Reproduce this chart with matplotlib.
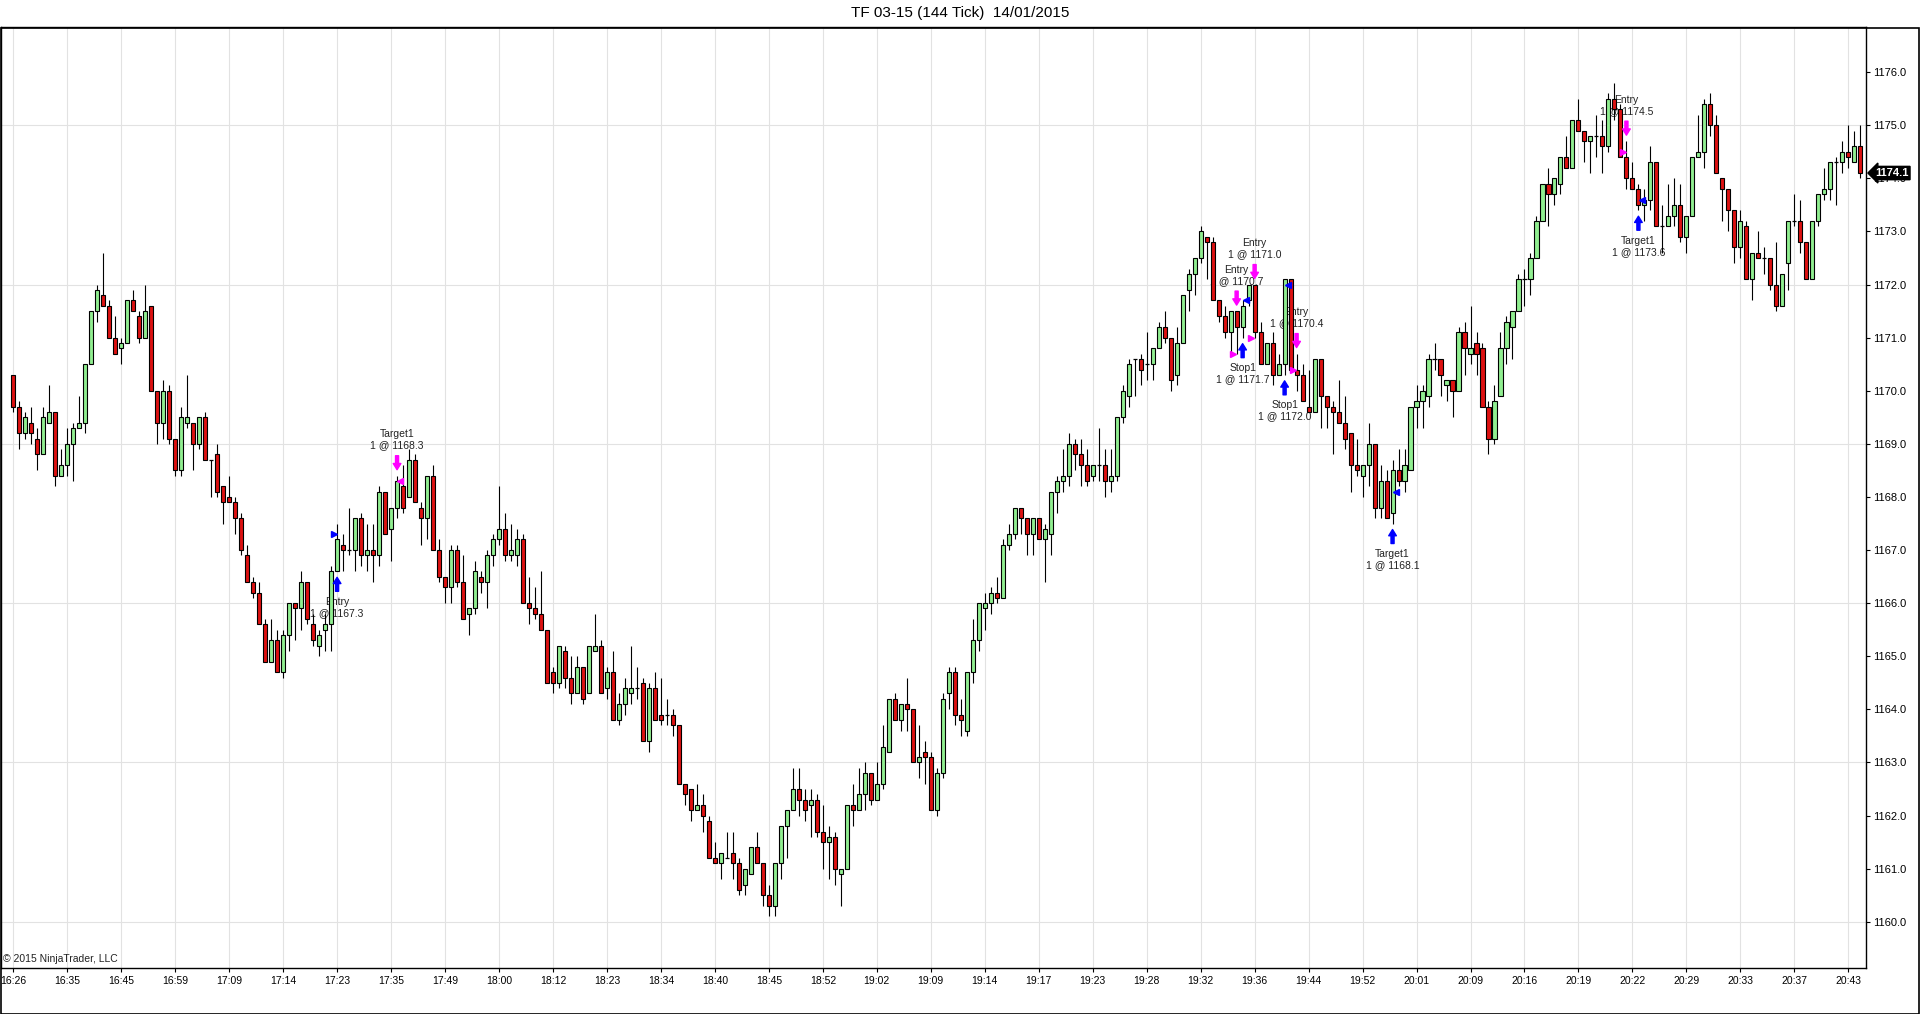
import numpy as np
import matplotlib
matplotlib.use("Agg")
import matplotlib.pyplot as plt
from matplotlib.patches import Rectangle
from matplotlib.transforms import blended_transform_factory

plt.rcParams['font.family'] = ['Liberation Sans', 'DejaVu Sans']

# ---- data: 144 tick bars, TF 03-15 ----
opens = [
    1170.3, 1169.7, 1169.2, 1169.4, 1169.1, 1168.8, 1169.4, 1169.6, 1168.4, 1168.6,
    1169.0, 1169.3, 1169.4, 1170.5, 1171.5, 1171.8, 1171.6, 1171.0, 1170.8, 1170.9,
    1171.7, 1171.4, 1171.0, 1171.6, 1170.0, 1169.4, 1170.0, 1169.1, 1168.5, 1169.4,
    1169.4, 1169.0, 1169.5, 1168.7, 1168.8, 1168.2, 1168.0, 1167.9, 1167.6, 1166.9,
    1166.4, 1166.2, 1165.6, 1164.9, 1165.3, 1164.7, 1165.4, 1166.0, 1165.9, 1166.4,
    1165.6, 1165.2, 1165.5, 1165.6, 1166.6, 1167.1, 1167.0, 1167.0, 1167.6, 1166.9,
    1167.0, 1166.9, 1168.1, 1167.4, 1167.8, 1168.2, 1168.0, 1168.7, 1167.8, 1167.6,
    1168.4, 1167.0, 1166.5, 1166.3, 1167.0, 1166.4, 1165.8, 1165.9, 1166.5, 1166.4,
    1166.9, 1167.2, 1167.4, 1166.9, 1166.9, 1167.2, 1166.0, 1165.9, 1165.8, 1165.5,
    1164.7, 1164.5, 1165.1, 1164.6, 1164.3, 1164.8, 1164.3, 1165.1, 1165.2, 1164.4,
    1164.7, 1163.8, 1164.1, 1164.3, 1164.4, 1164.5, 1163.4, 1164.4, 1163.9, 1163.9,
    1163.9, 1163.7, 1162.6, 1162.5, 1162.1, 1162.2, 1161.9, 1161.2, 1161.1, 1161.2,
    1161.3, 1161.1, 1160.7, 1160.9, 1161.4, 1161.1, 1160.5, 1160.3, 1161.1, 1161.8,
    1162.1, 1162.5, 1162.3, 1162.2, 1162.3, 1161.7, 1161.5, 1161.6, 1160.9, 1161.0,
    1162.2, 1162.1, 1162.4, 1162.8, 1162.3, 1162.6, 1163.2, 1164.2, 1163.8, 1164.1,
    1164.0, 1163.0, 1163.2, 1163.1, 1162.1, 1162.8, 1164.3, 1164.7, 1163.9, 1163.6,
    1164.7, 1165.3, 1165.9, 1166.0, 1166.2, 1166.1, 1167.1, 1167.3, 1167.8, 1167.6,
    1167.3, 1167.6, 1167.2, 1167.3, 1168.1, 1168.3, 1168.4, 1169.0, 1168.8, 1168.6,
    1168.4, 1168.6, 1168.6, 1168.3, 1168.4, 1169.5, 1169.9, 1170.6, 1170.6, 1170.5,
    1170.5, 1170.8, 1171.2, 1171.0, 1170.3, 1170.9, 1171.9, 1172.2, 1172.5, 1172.9,
    1172.8, 1171.7, 1171.4, 1171.1, 1171.5, 1171.2, 1171.7, 1172.0, 1171.1, 1170.5,
    1170.9, 1170.3, 1170.5, 1172.1, 1170.4, 1170.3, 1169.7, 1169.6, 1170.6, 1169.9,
    1169.7, 1169.6, 1169.4, 1169.2, 1168.6, 1168.4, 1168.6, 1169.0, 1167.8, 1168.3,
    1167.7, 1168.5, 1168.3, 1168.5, 1169.7, 1169.8, 1169.9, 1170.6, 1170.6, 1170.1,
    1170.2, 1170.0, 1171.1, 1170.7, 1170.9, 1170.8, 1169.7, 1169.1, 1169.9, 1170.8,
    1171.2, 1171.5, 1172.1, 1172.1, 1172.5, 1173.2, 1173.9, 1173.7, 1173.9, 1174.4,
    1174.2, 1175.1, 1174.9, 1174.7, 1174.8, 1174.8, 1174.6, 1175.5, 1175.3, 1174.4,
    1174.0, 1173.8, 1173.5, 1173.6, 1174.3, 1173.1, 1173.1, 1173.3, 1173.5, 1172.9,
    1173.3, 1174.4, 1174.5, 1175.4, 1175.0, 1174.0, 1173.8, 1173.4, 1172.7, 1173.1,
    1172.1, 1172.6, 1172.5, 1172.5, 1172.0, 1171.6, 1172.4, 1173.2, 1173.2, 1172.8,
    1172.1, 1173.2, 1173.7, 1173.8, 1174.3, 1174.3, 1174.5, 1174.3, 1174.6,
]
highs = [
    1170.3, 1169.8, 1169.6, 1169.7, 1169.3, 1169.7, 1170.1, 1169.6, 1168.9, 1169.3,
    1169.4, 1169.9, 1170.5, 1171.5, 1172.0, 1172.6, 1171.7, 1171.4, 1171.0, 1171.7,
    1171.9, 1171.5, 1172.0, 1171.6, 1170.0, 1170.2, 1170.1, 1169.1, 1169.7, 1170.3,
    1169.4, 1169.5, 1169.6, 1168.7, 1169.0, 1168.2, 1168.4, 1168.0, 1167.7, 1167.1,
    1166.5, 1166.4, 1165.7, 1165.7, 1165.5, 1165.5, 1166.0, 1166.0, 1166.6, 1166.4,
    1165.8, 1165.5, 1165.8, 1166.7, 1167.5, 1167.3, 1167.8, 1167.6, 1167.7, 1167.5,
    1167.5, 1168.2, 1168.1, 1167.8, 1168.4, 1168.6, 1168.9, 1168.8, 1167.9, 1168.4,
    1168.6, 1167.2, 1166.5, 1167.1, 1167.1, 1166.9, 1165.9, 1166.8, 1166.6, 1167.0,
    1167.3, 1168.2, 1167.7, 1167.5, 1167.4, 1167.3, 1166.5, 1166.3, 1166.6, 1165.5,
    1164.8, 1165.2, 1165.2, 1165.0, 1165.0, 1164.8, 1165.2, 1165.8, 1165.3, 1164.8,
    1165.1, 1164.3, 1164.6, 1165.2, 1164.8, 1164.6, 1164.5, 1164.7, 1164.6, 1164.2,
    1164.0, 1163.7, 1162.6, 1162.5, 1162.6, 1162.4, 1162.0, 1161.5, 1161.3, 1161.7,
    1161.7, 1161.2, 1161.0, 1161.4, 1161.7, 1161.1, 1160.7, 1161.1, 1161.8, 1162.1,
    1162.9, 1162.9, 1162.5, 1162.5, 1162.4, 1162.2, 1161.8, 1161.7, 1161.0, 1162.2,
    1162.6, 1162.9, 1163.0, 1162.8, 1163.0, 1163.7, 1164.2, 1164.3, 1164.1, 1164.6,
    1164.0, 1163.7, 1163.4, 1163.2, 1162.9, 1164.3, 1164.8, 1164.8, 1164.2, 1164.7,
    1165.7, 1166.0, 1166.2, 1166.3, 1166.5, 1167.2, 1167.5, 1167.8, 1167.8, 1167.6,
    1167.6, 1167.6, 1167.5, 1168.1, 1168.4, 1168.9, 1169.2, 1169.1, 1169.1, 1168.9,
    1168.6, 1169.3, 1168.9, 1168.9, 1169.5, 1170.1, 1170.6, 1170.6, 1170.7, 1171.1,
    1170.8, 1171.3, 1171.5, 1171.0, 1171.2, 1171.8, 1172.3, 1172.5, 1173.1, 1172.9,
    1172.9, 1171.7, 1171.6, 1171.5, 1171.5, 1171.7, 1172.0, 1172.0, 1171.3, 1170.9,
    1171.1, 1170.7, 1172.1, 1172.1, 1170.7, 1170.5, 1170.4, 1170.6, 1170.6, 1169.9,
    1169.8, 1170.2, 1169.9, 1169.2, 1169.1, 1168.6, 1169.4, 1169.0, 1168.6, 1168.5,
    1168.7, 1168.9, 1168.9, 1169.7, 1170.1, 1170.1, 1170.7, 1170.9, 1170.6, 1170.2,
    1170.2, 1171.2, 1171.3, 1171.6, 1171.1, 1170.9, 1169.8, 1170.1, 1171.1, 1171.4,
    1171.5, 1172.2, 1172.3, 1172.6, 1173.3, 1173.9, 1174.2, 1174.0, 1174.4, 1174.8,
    1175.1, 1175.5, 1174.9, 1174.8, 1175.2, 1175.1, 1175.6, 1175.8, 1175.4, 1174.7,
    1174.3, 1173.9, 1173.8, 1174.6, 1174.3, 1173.5, 1173.9, 1174.0, 1173.9, 1173.3,
    1174.4, 1175.2, 1175.5, 1175.6, 1175.2, 1174.0, 1173.8, 1173.4, 1173.4, 1173.2,
    1172.6, 1173.0, 1172.7, 1172.5, 1172.8, 1172.2, 1173.2, 1173.7, 1173.6, 1172.8,
    1173.2, 1173.7, 1174.2, 1174.3, 1174.4, 1174.7, 1175.0, 1174.9, 1175.0,
]
lows = [
    1169.6, 1168.9, 1169.1, 1169.0, 1168.5, 1168.8, 1169.4, 1168.2, 1168.4, 1168.4,
    1168.3, 1169.3, 1169.2, 1170.5, 1171.3, 1171.6, 1171.0, 1170.7, 1170.5, 1170.9,
    1171.5, 1170.9, 1171.0, 1170.0, 1169.0, 1169.1, 1169.0, 1168.4, 1168.4, 1169.3,
    1168.5, 1168.9, 1168.7, 1168.0, 1168.0, 1167.5, 1167.9, 1167.3, 1166.9, 1166.4,
    1166.1, 1165.6, 1164.9, 1164.9, 1164.7, 1164.6, 1165.1, 1165.3, 1165.5, 1165.6,
    1165.2, 1165.0, 1165.1, 1165.1, 1166.6, 1166.6, 1166.9, 1166.6, 1166.7, 1166.6,
    1166.4, 1166.7, 1167.3, 1166.8, 1167.6, 1167.7, 1168.0, 1167.9, 1167.1, 1167.2,
    1167.0, 1166.4, 1166.0, 1166.0, 1166.3, 1165.7, 1165.4, 1165.8, 1166.2, 1165.9,
    1166.7, 1167.1, 1166.8, 1166.8, 1166.7, 1166.0, 1165.6, 1165.7, 1165.5, 1164.5,
    1164.3, 1164.4, 1164.4, 1164.1, 1164.3, 1164.1, 1164.3, 1165.1, 1164.3, 1164.2,
    1163.8, 1163.7, 1163.9, 1164.1, 1164.2, 1163.4, 1163.2, 1163.8, 1163.7, 1163.7,
    1163.5, 1162.6, 1162.2, 1161.9, 1162.1, 1161.7, 1161.2, 1161.1, 1160.8, 1161.2,
    1160.8, 1160.5, 1160.5, 1160.9, 1161.1, 1160.3, 1160.1, 1160.1, 1160.8, 1161.2,
    1162.1, 1162.0, 1161.9, 1161.6, 1161.6, 1161.0, 1160.8, 1160.7, 1160.3, 1161.0,
    1161.8, 1162.1, 1162.1, 1162.2, 1162.3, 1162.5, 1163.2, 1163.8, 1163.6, 1163.6,
    1163.0, 1162.7, 1162.6, 1162.1, 1162.0, 1162.7, 1164.0, 1163.7, 1163.5, 1163.5,
    1164.5, 1165.1, 1165.5, 1165.8, 1166.0, 1166.1, 1167.0, 1167.2, 1167.3, 1166.9,
    1166.9, 1167.2, 1166.4, 1166.9, 1167.7, 1168.1, 1168.2, 1168.5, 1168.2, 1168.2,
    1168.3, 1168.3, 1168.0, 1168.1, 1168.3, 1169.4, 1169.7, 1169.9, 1170.1, 1170.2,
    1170.2, 1170.8, 1170.9, 1170.0, 1170.1, 1170.9, 1171.5, 1171.8, 1172.4, 1172.1,
    1171.7, 1171.3, 1171.0, 1170.7, 1170.7, 1171.0, 1171.6, 1171.0, 1170.5, 1170.5,
    1170.1, 1170.3, 1170.3, 1170.4, 1170.0, 1169.8, 1169.6, 1169.6, 1169.3, 1169.3,
    1168.8, 1169.4, 1168.9, 1168.1, 1168.4, 1168.0, 1168.2, 1167.6, 1167.6, 1167.6,
    1167.5, 1168.2, 1168.1, 1168.5, 1169.3, 1169.3, 1169.7, 1170.4, 1169.9, 1169.8,
    1169.5, 1170.0, 1170.3, 1170.5, 1170.3, 1169.7, 1168.8, 1169.0, 1169.9, 1170.5,
    1170.6, 1171.5, 1171.6, 1171.8, 1172.5, 1173.2, 1173.1, 1173.5, 1173.7, 1174.2,
    1174.2, 1174.9, 1174.3, 1174.1, 1174.4, 1174.1, 1174.5, 1175.1, 1174.4, 1173.8,
    1173.8, 1173.4, 1173.2, 1173.4, 1173.1, 1172.6, 1173.1, 1173.1, 1172.8, 1172.6,
    1173.3, 1174.4, 1174.2, 1174.8, 1174.1, 1173.2, 1173.0, 1172.4, 1172.5, 1172.1,
    1171.7, 1172.5, 1172.2, 1171.9, 1171.5, 1171.6, 1171.9, 1173.1, 1172.6, 1172.1,
    1172.1, 1173.1, 1173.6, 1173.6, 1173.5, 1174.1, 1174.2, 1174.3, 1174.0,
]
closes = [
    1169.7, 1169.2, 1169.5, 1169.2, 1168.8, 1169.5, 1169.6, 1168.4, 1168.6, 1169.0,
    1169.3, 1169.4, 1170.5, 1171.5, 1171.9, 1171.6, 1171.0, 1170.7, 1170.9, 1171.7,
    1171.5, 1171.0, 1171.5, 1170.0, 1169.4, 1170.0, 1169.1, 1168.5, 1169.5, 1169.5,
    1169.0, 1169.5, 1168.7, 1168.7, 1168.1, 1167.9, 1167.9, 1167.6, 1167.0, 1166.4,
    1166.2, 1165.6, 1164.9, 1165.3, 1164.7, 1165.4, 1166.0, 1165.9, 1166.4, 1165.7,
    1165.3, 1165.4, 1165.6, 1166.6, 1167.2, 1167.0, 1167.0, 1167.6, 1166.9, 1167.0,
    1166.9, 1168.1, 1167.3, 1167.8, 1168.3, 1167.8, 1168.7, 1167.9, 1167.6, 1168.4,
    1167.0, 1166.5, 1166.3, 1167.0, 1166.4, 1165.7, 1165.9, 1166.6, 1166.4, 1166.9,
    1167.2, 1167.4, 1166.9, 1167.0, 1167.2, 1166.0, 1165.9, 1165.8, 1165.5, 1164.5,
    1164.5, 1165.2, 1164.6, 1164.3, 1164.8, 1164.2, 1165.2, 1165.2, 1164.3, 1164.7,
    1163.8, 1164.1, 1164.4, 1164.4, 1164.4, 1163.4, 1164.4, 1163.8, 1163.8, 1163.9,
    1163.7, 1162.6, 1162.4, 1162.1, 1162.2, 1162.0, 1161.2, 1161.1, 1161.3, 1161.2,
    1161.1, 1160.6, 1161.0, 1161.4, 1161.1, 1160.5, 1160.3, 1161.1, 1161.8, 1162.1,
    1162.5, 1162.3, 1162.1, 1162.3, 1161.7, 1161.5, 1161.6, 1161.0, 1161.0, 1162.2,
    1162.1, 1162.4, 1162.8, 1162.3, 1162.6, 1163.3, 1164.2, 1163.8, 1164.1, 1164.0,
    1163.0, 1163.1, 1163.1, 1162.1, 1162.8, 1164.2, 1164.7, 1163.9, 1163.8, 1164.7,
    1165.3, 1166.0, 1166.0, 1166.2, 1166.1, 1167.1, 1167.3, 1167.8, 1167.6, 1167.3,
    1167.6, 1167.2, 1167.4, 1168.1, 1168.3, 1168.4, 1169.0, 1168.8, 1168.6, 1168.3,
    1168.6, 1168.6, 1168.3, 1168.4, 1169.5, 1170.0, 1170.5, 1170.6, 1170.4, 1170.5,
    1170.8, 1171.2, 1171.0, 1170.2, 1170.9, 1171.8, 1172.2, 1172.5, 1173.0, 1172.8,
    1171.7, 1171.4, 1171.1, 1171.5, 1171.2, 1171.6, 1172.0, 1171.1, 1170.5, 1170.9,
    1170.3, 1170.5, 1172.1, 1170.4, 1170.3, 1169.8, 1169.6, 1170.6, 1169.9, 1169.7,
    1169.6, 1169.4, 1169.1, 1168.6, 1168.5, 1168.6, 1169.0, 1167.8, 1168.3, 1167.6,
    1168.5, 1168.3, 1168.6, 1169.7, 1169.8, 1170.0, 1170.6, 1170.6, 1170.3, 1170.2,
    1170.0, 1171.1, 1170.8, 1170.8, 1170.7, 1169.7, 1169.1, 1169.8, 1170.8, 1171.3,
    1171.5, 1172.1, 1172.1, 1172.5, 1173.2, 1173.9, 1173.7, 1174.0, 1174.4, 1174.2,
    1175.1, 1174.9, 1174.7, 1174.8, 1174.8, 1174.6, 1175.5, 1175.3, 1174.4, 1174.0,
    1173.8, 1173.5, 1173.6, 1174.3, 1173.1, 1173.1, 1173.3, 1173.5, 1172.9, 1173.3,
    1174.4, 1174.5, 1175.4, 1175.0, 1174.1, 1173.8, 1173.4, 1172.7, 1173.2, 1172.1,
    1172.6, 1172.5, 1172.5, 1172.0, 1171.6, 1172.2, 1173.2, 1173.2, 1172.8, 1172.1,
    1173.2, 1173.7, 1173.8, 1174.3, 1174.3, 1174.5, 1174.4, 1174.6, 1174.1,
]

# time label every 9 bars
time_labels = ["16:26", "16:35", "16:45", "16:59", "17:09", "17:14", "17:23", "17:35",
               "17:49", "18:00", "18:12", "18:23", "18:34", "18:40", "18:45", "18:52",
               "19:02", "19:09", "19:14", "19:17", "19:23", "19:28", "19:32", "19:36",
               "19:44", "19:52", "20:01", "20:09", "20:16", "20:19", "20:22", "20:29",
               "20:33", "20:37", "20:43"]

# executions: bar, name, fill price, side
sig_bars = [54, 64, 204, 205, 207, 212, 214, 230, 269, 271]
sig_names = ["Entry", "Target1", "Entry", "Stop1", "Entry", "Stop1", "Entry", "Target1", "Entry", "Target1"]
sig_prices = [1167.3, 1168.3, 1170.7, 1171.7, 1171.0, 1172.0, 1170.4, 1168.1, 1174.5, 1173.6]
sig_side = ["buy", "sell", "sell", "buy", "sell", "buy", "sell", "buy", "sell", "buy"]

last_price = 1174.1

UP = '#90ee90'
DOWN = '#dd1111'
GRID = '#e2e2e2'

fig = plt.figure(figsize=(19.2, 10.14), dpi=100)
ax = fig.add_axes([0.0005, 1 - 968 / 1014, 1866 / 1920 - 0.0005, (968 - 27) / 1014])

x = np.arange(len(opens))
o = np.array(opens)
h = np.array(highs)
l = np.array(lows)
c = np.array(closes)

ymin, ymax = 1159.13, 1176.85
ax.set_xlim(-2.05, 308.95)
ax.set_ylim(ymin, ymax)

# grid
for v in np.arange(1160, 1176, 3):
    ax.axhline(v, color=GRID, lw=0.8, zorder=0)
for v in range(0, len(opens), 9):
    ax.axvline(v, color=GRID, lw=0.8, zorder=0)

# candles
ax.vlines(x, l, h, color='black', lw=0.8, zorder=2)
doji = np.isclose(o, c)
body = ~doji
cols = np.where(c > o, UP, DOWN)
ax.bar(x[body], np.abs(c - o)[body], bottom=np.minimum(o, c)[body], width=0.68,
       color=cols[body], edgecolor='black', linewidth=0.8, zorder=3)
ax.hlines(o[doji], x[doji] - 0.34, x[doji] + 0.34, color='black', lw=0.9, zorder=3)

# executions
px = (ymax - ymin) / 941.0  # price per pixel
for b, name, p, side in zip(sig_bars, sig_names, sig_prices, sig_side):
    col = 'blue' if side == 'buy' else '#ff00ff'
    if side == 'buy':
        tip = l[b] - 6 * px
        tail = tip - 14 * px
        ty = l[b] - 36 * px
    else:
        tip = h[b] + 6 * px
        tail = tip + 14 * px
        ty = h[b] + 36 * px
    ax.annotate('', xy=(b, tip), xytext=(b, tail),
                arrowprops=dict(arrowstyle='simple,head_length=0.45,head_width=0.55,tail_width=0.22',
                                color=col, shrinkA=0, shrinkB=0, mutation_scale=10), zorder=5)
    ax.text(b, ty, "%s\n1 @ %.1f" % (name, p), ha='center', va='center',
            fontsize=7.5, color='#222222', linespacing=1.15, zorder=1)
    if name == "Entry":
        ax.plot(b - 0.55, p, marker='>', color=col, markersize=5, zorder=5)
    else:
        ax.plot(b + 0.55, p, marker='<', color=col, markersize=5, zorder=5)

# axes styling
ax.yaxis.tick_right()
ax.set_yticks(np.arange(1160, 1177, 1))
ax.set_yticklabels(["%.1f" % v for v in np.arange(1160, 1177, 1)], fontsize=8)
ax.set_xticks(np.arange(0, 9 * len(time_labels), 9))
ax.set_xticklabels(time_labels, fontsize=7.5)
ax.tick_params(axis='y', direction='out', length=3, width=0.8, pad=2, colors='black')
ax.tick_params(axis='x', direction='out', length=3, width=0.8, pad=3, colors='black')
for s in ax.spines.values():
    s.set_linewidth(1.0)
    s.set_color('black')

# last price marker
tr = blended_transform_factory(ax.transAxes, ax.transData)
ax.text(1.0 + 9 / 1866, last_price, "%.1f" % last_price, transform=tr, ha='left', va='center',
        fontsize=8, fontweight='bold', color='white', zorder=10, clip_on=False,
        bbox=dict(boxstyle='larrow,pad=0.15', fc='black', ec='black'))

ax.text(0.001, 0.004, "\u00a9 2015 NinjaTrader, LLC", transform=ax.transAxes,
        ha='left', va='bottom', fontsize=7.5, color='#222222')

fig.text(0.5, 1 - 13 / 1014, "TF 03-15 (144 Tick)  14/01/2015", ha='center', va='center', fontsize=11)

# outer frame
fig.add_artist(Rectangle((0.5 / 1920, 0.5 / 1014), 1918.5 / 1920, (1013 - 27) / 1014,
                         transform=fig.transFigure, fill=False, lw=1.2, ec='black'))

fig.savefig('out.png', dpi=100)
